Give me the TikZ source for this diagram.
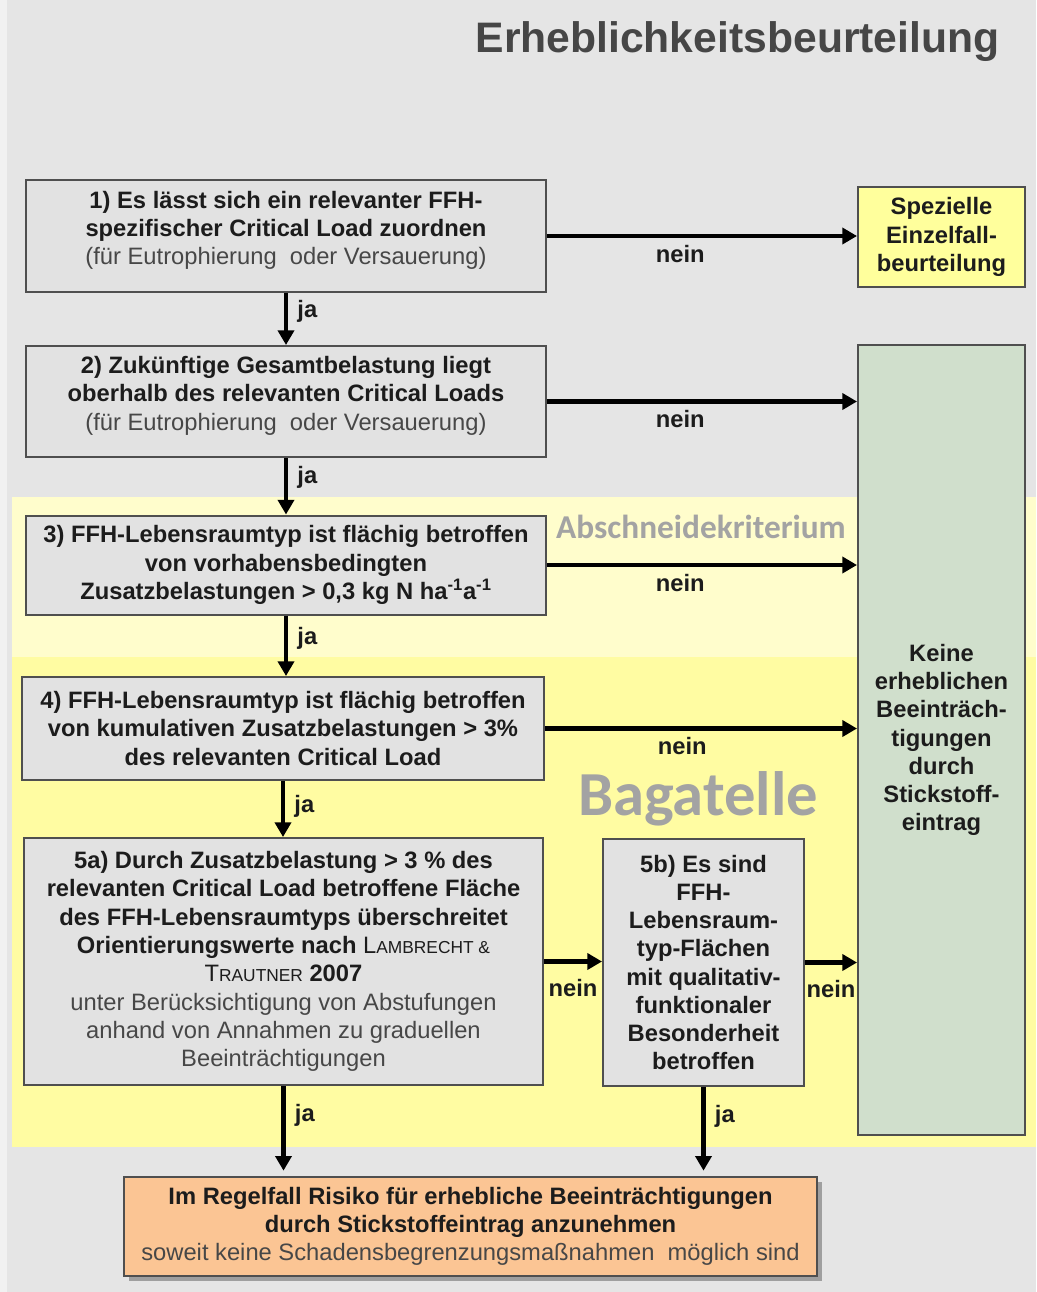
\documentclass[tikz,border=0pt]{standalone}
\usepackage{fontspec}
\setmainfont{Liberation Sans}
\newfontfamily\carlito{Carlito}
\usetikzlibrary{arrows.meta,shadows}

\definecolor{bggray}{HTML}{E5E5E5}
\definecolor{edgegray}{HTML}{F1F1F1}
\definecolor{yellowlight}{HTML}{FFFDCC}
\definecolor{yellowdark}{HTML}{FFFCA2}
\definecolor{boxgray}{HTML}{E2E2E2}
\definecolor{boxline}{HTML}{4F4F4F}
\definecolor{spezyellow}{HTML}{FFFF9C}
\definecolor{keinegreen}{HTML}{D0DFCC}
\definecolor{resorange}{HTML}{FBC594}
\definecolor{textdark}{HTML}{1C1C1C}
\definecolor{subgray}{HTML}{474747}
\definecolor{titlegray}{HTML}{464646}
\definecolor{markgray}{HTML}{A3A3A3}

\newcommand\boxfont{\fontsize{17.8}{21.2}\selectfont}
\newcommand\gr[1]{{\mdseries\color{subgray}#1}}
\newcommand\smc[2]{#1{\fontsize{13}{14}\selectfont #2}}
\newcommand\lift{\\[-9pt]\mbox{}}

\tikzset{every picture/.style={line width=0.75pt}}
\tikzset{
  box/.style={draw=boxline, line width=1.5pt, fill=boxgray, align=center, inner sep=2pt, text=textdark, font=\boxfont\bfseries},
  flow/.style={line width=3.2pt, -{Triangle[length=11pt,width=12pt]}},
  lab/.style={font=\boxfont\bfseries, text=textdark, inner sep=2pt},
}

\begin{document}
\begin{tikzpicture}[x=0.75pt,y=0.75pt,yscale=-1,xscale=1]
\useasboundingbox (0,0) rectangle (1036,1292);

%Background
\fill[bggray] (0,0) rectangle (1036,1292);
\fill[edgegray] (0,0) rectangle (7,1292);
\fill[yellowlight] (12,497) rectangle (1036,657);
\fill[yellowdark] (12,657) rectangle (1036,1147);

% Text Node
\node[anchor=base east, inner sep=0pt, font=\fontsize{32}{36}\selectfont\bfseries, text=titlegray] (title) at (1000,52) {Erheblichkeitsbeurteilung};
% Text Node
\node[anchor=base, font=\carlito\fontsize{25}{28}\selectfont\bfseries, text=markgray] (abschn) at (701,538) {Abschneidekriterium};
% Text Node
\node[anchor=base, font=\carlito\fontsize{47}{50}\selectfont\bfseries, text=markgray] (bagat) at (698,815) {Bagatelle};

%Boxes
\node[box, minimum width=390pt, minimum height=84pt] (q1) at (286,236) {1) Es lässt sich ein relevanter FFH-\\spezifischer Critical Load zuordnen\\\gr{(für Eutrophierung\ \ oder Versauerung)}\lift};
\node[box, minimum width=390pt, minimum height=83.25pt] (q2) at (286,401.5) {2) Zukünftige Gesamtbelastung liegt\\oberhalb des relevanten Critical\ Loads\\\gr{(für Eutrophierung\ \ oder Versauerung)}\lift};
\node[box, minimum width=390pt, minimum height=74.25pt] (q3) at (286,565) {3) FFH-Lebensraumtyp ist flächig betroffen\\von vorhabensbedingten\\Zusatzbelastungen > 0,3 kg N ha\textsuperscript{-1}a\textsuperscript{-1}};
\node[box, minimum width=391.5pt, minimum height=77.25pt] (q4) at (283,728.5) {4) FFH-Lebensraumtyp ist flächig betroffen\\von kumulativen Zusatzbelastungen > 3\%\\des relevanten Critical\ Load};
\node[box, minimum width=389.25pt, minimum height=185.25pt] (q5a) at (283.5,961.5) {5a) Durch Zusatzbelastung > 3 \% des\\relevanten Critical\ Load betroffene Fläche\\des FFH-Lebensraumtyps überschreitet\\Orientierungswerte nach {\mdseries\smc{L}{AMBRECHT \&}}\\{\mdseries\smc{T}{RAUTNER}} 2007\\\gr{unter Berücksichtigung von Abstufungen}\\\gr{anhand von Annahmen zu graduellen}\\\gr{Beeinträchtigungen}};
\node[box, minimum width=150.75pt, minimum height=185.25pt] (q5b) at (703.5,962.5) {5b) Es sind\\FFH-\\Lebensraum-\\typ-Flächen\\mit qualitativ-\\funktionaler\\Besonderheit\\betroffen};
\node[box, fill=spezyellow, minimum width=125.25pt, minimum height=75pt] (spez) at (941.5,237) {Spezielle\\Einzelfall-\\beurteilung};
\node[box, fill=keinegreen, minimum width=125.25pt, minimum height=592.5pt] (keine) at (941.5,740) {Keine\\erheblichen\\Beeinträch-\\tigungen\\durch\\Stickstoff-\\eintrag};
\node[box, fill=resorange, minimum width=519.75pt, minimum height=74.25pt, drop shadow={shadow xshift=3.5pt, shadow yshift=-3.5pt, fill=black!60, opacity=.55}] (res) at (470.5,1226.5) {Im Regelfall Risiko für erhebliche Beeinträchtigungen\\durch Stickstoffeintrag anzunehmen\\\gr{soweit keine Schadensbegrenzungsmaßnahmen\ \ möglich sind}};

%Straight Lines ja
\draw[flow] (q1) -- node[lab, right, pos=0.35, xshift=5pt] (ja1) {ja} (q2);
\draw[flow] (q2) -- node[lab, right, pos=0.35, xshift=5pt] (ja2) {ja} (q3);
\draw[flow] (q3.south) -- node[lab, right, pos=0.38, xshift=5pt] (ja3) {ja} (q3.south |- q4.north);
\draw[flow] (q4.south) -- node[lab, right, pos=0.45, xshift=5pt] (ja4) {ja} (q4.south |- q5a.north);
\draw[flow, shorten >=4pt] (q5a.south) -- node[lab, right, pos=0.33, xshift=5pt] (ja5) {ja} (q5a.south |- res.north);
\draw[flow, shorten >=4pt] (q5b.south) -- node[lab, right, pos=0.33, xshift=5pt] (ja6) {ja} (q5b.south |- res.north);

%Straight Lines nein
\draw[flow] (q1.east) -- node[lab, below, pos=0.43, inner ysep=5pt] (nein1) {nein} (q1.east -| spez.west);
\draw[flow] (q2.east) -- node[lab, below, pos=0.43, inner ysep=5pt] (nein2) {nein} (q2.east -| keine.west);
\draw[flow] (q3.east) -- node[lab, below, pos=0.43, inner ysep=5pt] (nein3) {nein} (q3.east -| keine.west);
\draw[flow] (q4.east) -- node[lab, below, pos=0.44, inner ysep=5pt] (nein4) {nein} (q4.east -| keine.west);
\draw[flow] (q5a.east) -- node[lab, below, inner ysep=12pt] (nein5) {nein} (q5a.east -| q5b.west);
\draw[flow] (q5b.east) -- node[lab, below, inner ysep=12pt] (nein6) {nein} (q5b.east -| keine.west);

\end{tikzpicture}
\end{document}
